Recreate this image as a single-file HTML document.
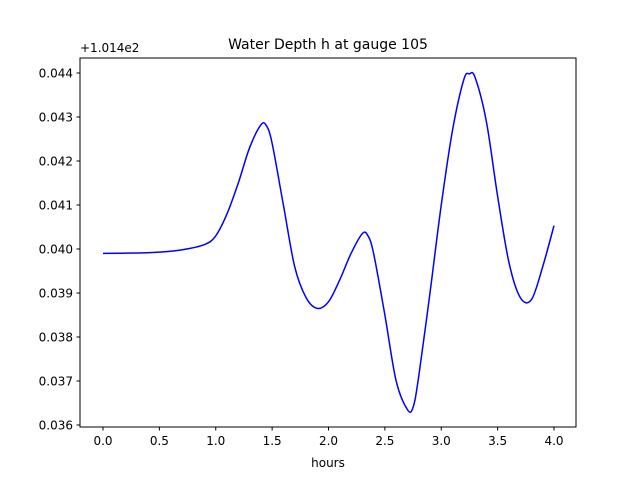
<!DOCTYPE html>
<html><head><meta charset="utf-8"><style>
body{margin:0;background:#fff}
svg{font-family:"DejaVu Sans","Liberation Sans",sans-serif}
</style></head><body>
<svg id="chart" width="640" height="480" xmlns="http://www.w3.org/2000/svg">
<rect width="640" height="480" fill="#fff"/>
<g id="axes"></g>
<path id="line" fill="none" stroke="#0000ff" stroke-width="1.5"/>
<rect x="80" y="58" width="496" height="369" fill="none" stroke="#000" stroke-width="1"/>
<text x="328" y="49" text-anchor="middle" font-size="14">Water Depth h at gauge 105</text>
<text x="328" y="467" text-anchor="middle" font-size="12">hours</text>
<text x="80" y="52" font-size="12">+1.014e2</text>
</svg>
<script>
const times=[0,0.3,0.5,0.7,0.9,1.0,1.1,1.2,1.3,1.4,1.45,1.5,1.6,1.7,1.8,1.9,2.0,2.1,2.2,2.3,2.35,2.4,2.5,2.6,2.7,2.75,2.8,2.9,3.0,3.1,3.2,3.25,3.3,3.4,3.5,3.6,3.7,3.8,3.9,4.0];
const depths=[0.0399,0.03991,0.03993,0.03998,0.0401,0.0403,0.0408,0.0415,0.0423,0.04282,0.0428,0.0424,0.041,0.0396,0.0389,0.03865,0.0388,0.0393,0.0399,0.04035,0.0403,0.0399,0.0385,0.037,0.03635,0.0364,0.0371,0.039,0.041,0.0427,0.04385,0.04398,0.0439,0.0429,0.0412,0.0397,0.0389,0.03885,0.0396,0.04053];
const xTicks=[0,0.5,1,1.5,2,2.5,3,3.5,4];
const xTickLabels=["0.0","0.5","1.0","1.5","2.0","2.5","3.0","3.5","4.0"];
const yTicks=[0.036,0.037,0.038,0.039,0.040,0.041,0.042,0.043,0.044];
const yTickLabels=["0.036","0.037","0.038","0.039","0.040","0.041","0.042","0.043","0.044"];
const X=t=>103+t*112.75;
const Y=v=>425-(v-0.036)*44000;
const NS="http://www.w3.org/2000/svg";
const ax=document.getElementById('axes');
function mk(tag,attrs,txt){const e=document.createElementNS(NS,tag);for(const k in attrs)e.setAttribute(k,attrs[k]);if(txt!==undefined)e.textContent=txt;ax.appendChild(e);return e;}
xTicks.forEach((t,i)=>{
 const l=mk('line',{x1:X(t),x2:X(t),y1:427,y2:430.5,stroke:'#000'});
 
 
 const tx=mk('text',{x:X(t),y:445,'text-anchor':'middle','font-size':12},xTickLabels[i]);
 
 
});
yTicks.forEach((v,i)=>{
 const l=mk('line',{x1:76.5,x2:80,y1:Y(v),y2:Y(v),stroke:'#000'});
 
 
 const tx=mk('text',{x:73,y:Y(v)+4.5,'text-anchor':'end','font-size':12},yTickLabels[i]);
 
 
});
const pts=times.map((t,i)=>[X(t),Y(depths[i])]);
let d='M'+pts[0][0]+','+pts[0][1];
for(let i=0;i<pts.length-1;i++){
 const p0=pts[Math.max(0,i-1)],p1=pts[i],p2=pts[i+1],p3=pts[Math.min(pts.length-1,i+2)];
 const c1=[p1[0]+(p2[0]-p0[0])/6,p1[1]+(p2[1]-p0[1])/6];
 const c2=[p2[0]-(p3[0]-p1[0])/6,p2[1]-(p3[1]-p1[1])/6];
 d+=`C${c1[0]},${c1[1]} ${c2[0]},${c2[1]} ${p2[0]},${p2[1]}`;
}
document.getElementById('line').setAttribute('d',d);
</script>
</body></html>
